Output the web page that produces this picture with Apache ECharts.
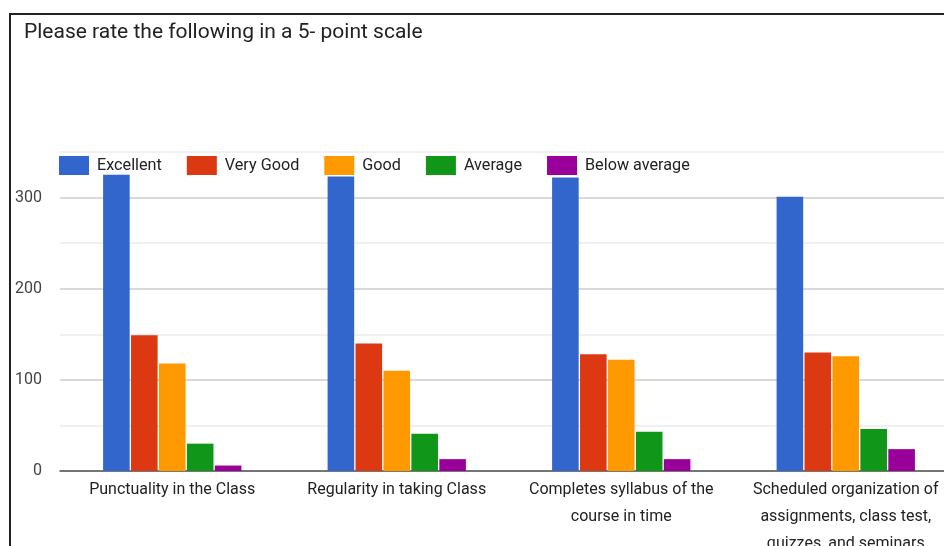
<!DOCTYPE html>
<html>
<head>
<meta charset="utf-8">
<script src="https://cdn.jsdelivr.net/npm/echarts@6/dist/echarts.min.js"></script>
<style>
  html, body { margin: 0; padding: 0; background: #fff; overflow: hidden; }
  #chart { position: absolute; left: 0; top: 0; width: 944px; height: 546px; }
  #frame { position: absolute; left: 9px; top: 13px; width: 1000px; height: 1000px;
           border-left: 2px solid #222; border-top: 2px solid #222; pointer-events: none; }
</style>
</head>
<body>
<div id="chart"></div>
<div id="frame"></div>
<script>
// Survey responses: ratings on a 5-point scale for four teaching aspects
const titleText = 'Please rate the following in a 5- point scale';
const categories = [
  'Punctuality in the Class',
  'Regularity in taking Class',
  'Completes syllabus of the\ncourse in time',
  'Scheduled organization of\nassignments, class test,\nquizzes, and seminars'
];
const seriesNames = ['Excellent', 'Very Good', 'Good', 'Average', 'Below average'];
const excellent    = [325, 323, 322, 301];
const veryGood     = [149, 140, 128, 130];
const good         = [118, 110, 122, 126];
const average      = [30, 41, 43, 46];
const belowAverage = [6, 13, 13, 24];
const yLabelTicks  = [0, 100, 200, 300];

const palette = ['#3366cc', '#dc3912', '#ff9900', '#109618', '#990099'];
const FONT = "'Roboto', sans-serif";

const values = [excellent, veryGood, good, average, belowAverage];

const chart = echarts.init(document.getElementById('chart'), null, { renderer: 'canvas' });

chart.setOption({
  animation: false,
  backgroundColor: '#fff',
  color: palette,
  title: {
    text: titleText,
    left: 24,
    top: 22,
    padding: 0,
    textStyle: { fontFamily: FONT, fontSize: 21, fontWeight: 'normal', color: '#222' }
  },
  legend: {
    data: seriesNames,
    left: 59,
    top: 156,
    padding: 0,
    icon: 'rect',
    itemWidth: 30,
    itemHeight: 19,
    itemGap: 25,
    textStyle: { fontFamily: FONT, fontSize: 16.2, color: '#222', padding: [0, 0, 0, 3] }
  },
  grid: { left: 60, right: -14, top: 152, bottom: 75, outerBoundsMode: 'none' },
  xAxis: {
    type: 'category',
    data: categories,
    axisTick: { show: false },
    axisLine: { lineStyle: { color: '#555', width: 1.5 } },
    axisLabel: {
      interval: 0,
      fontFamily: FONT,
      fontSize: 16,
      lineHeight: 27,
      color: '#222',
      margin: 5
    }
  },
  yAxis: {
    type: 'value',
    min: 0,
    max: 350,
    interval: 50,
    axisLine: { show: false },
    axisTick: { show: false },
    axisLabel: {
      fontFamily: FONT,
      fontSize: 16,
      color: '#444',
      margin: 18,
      formatter: v => (yLabelTicks.indexOf(v) >= 0 ? String(v) : '')
    },
    splitLine: { lineStyle: { color: ['#cccccc', '#ebebeb'], width: 1.5 } }
  },
  series: seriesNames.map((name, i) => ({
    name,
    type: 'bar',
    data: values[i],
    barWidth: 26.6,
    barGap: '5%',
    itemStyle: { color: palette[i] }
  }))
});
</script>
</body>
</html>
